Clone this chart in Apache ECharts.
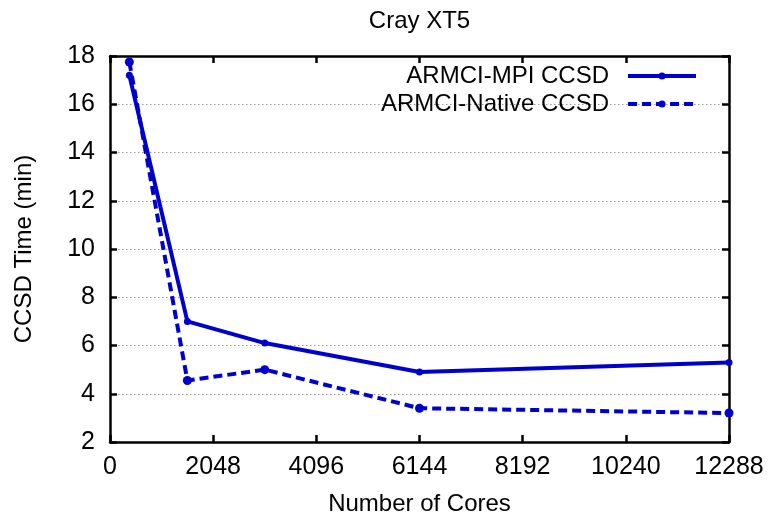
<!DOCTYPE html>
<html>
<head>
<meta charset="utf-8">
<script src="https://cdn.jsdelivr.net/npm/echarts@6/dist/echarts.min.js"></script>
<style>html,body{margin:0;padding:0;background:#fff}#c{width:769px;height:516px}</style>
</head>
<body>
<div id="c"></div>
<script>
const title = 'Cray XT5';
const cores = [384, 1536, 3072, 6144, 12288];
const mpiTimes = [17.2, 7.0, 6.1, 4.9, 5.3];
const nativeTimes = [17.75, 4.55, 5.0, 3.4, 3.2];
const seriesNames = ['ARMCI-MPI CCSD', 'ARMCI-Native CCSD'];
const xTicks = [0, 2048, 4096, 6144, 8192, 10240, 12288];
const yTicks = [2, 4, 6, 8, 10, 12, 14, 16, 18];

const font = 'Liberation Sans, Arial, Helvetica, sans-serif';
const blue = '#0000cc';
const dash = [9, 5];
const pair = (xs, ys) => xs.map((x, i) => [x, ys[i]]);

const baseAxis = {
  axisLine: { show: true, onZero: false, lineStyle: { color: '#000', width: 2.5 } },
  axisTick: { show: true, inside: true, length: 7, lineStyle: { color: '#000', width: 2.5 } },
  splitLine: { show: false }
};

const chart = echarts.init(document.getElementById('c'), null, { renderer: 'canvas' });
chart.setOption({
  animation: false,
  backgroundColor: '#fff',
  title: {
    text: title, left: 419.5, top: 9, textAlign: 'center', padding: 0,
    textStyle: { fontFamily: font, fontSize: 24, fontWeight: 'normal', color: '#000' }
  },
  grid: { left: 110, right: 40, top: 56, bottom: 74, containLabel: false, outerBoundsMode: 'none' },
  legend: {
    orient: 'vertical', right: 71, top: 64, align: 'right', padding: 0,
    itemWidth: 68, itemHeight: 9, itemGap: 4,
    textStyle: { fontFamily: font, fontSize: 24, color: '#000', padding: [0, 14, 0, 0], lineHeight: 24 },
    data: [
      { name: seriesNames[0], lineStyle: { width: 4 } },
      { name: seriesNames[1], lineStyle: { width: 4, type: dash } }
    ]
  },
  xAxis: [
    Object.assign({}, baseAxis, {
      type: 'value', min: xTicks[0], max: xTicks[xTicks.length - 1], interval: 2048,
      name: 'Number of Cores', nameLocation: 'middle', nameGap: 50,
      nameTextStyle: { fontFamily: font, fontSize: 24, color: '#000' },
      axisLabel: { fontFamily: font, fontSize: 25, color: '#000', margin: 13, formatter: v => String(v) }
    }),
    Object.assign({}, baseAxis, {
      type: 'value', position: 'top', min: xTicks[0], max: xTicks[xTicks.length - 1], interval: 2048,
      axisLabel: { show: false }
    })
  ],
  yAxis: [
    Object.assign({}, baseAxis, {
      type: 'value', min: yTicks[0], max: yTicks[yTicks.length - 1], interval: 2,
      name: 'CCSD Time (min)', nameLocation: 'middle', nameGap: 74, nameRotate: 90,
      nameTextStyle: { fontFamily: font, fontSize: 24, color: '#000' },
      axisLabel: { fontFamily: font, fontSize: 25, color: '#000', margin: 15, formatter: v => String(v) },
      splitLine: { show: true, lineStyle: { color: '#999', width: 1, type: [1.5, 2.5] } }
    }),
    Object.assign({}, baseAxis, {
      type: 'value', position: 'right', min: yTicks[0], max: yTicks[yTicks.length - 1], interval: 2,
      axisLabel: { show: false }
    })
  ],
  series: [
    {
      name: seriesNames[0], type: 'line', xAxisIndex: 0, yAxisIndex: 0,
      data: pair(cores, mpiTimes),
      symbol: 'circle', symbolSize: 7, showSymbol: true,
      lineStyle: { color: blue, width: 4 },
      itemStyle: { color: blue }
    },
    {
      name: seriesNames[1], type: 'line', xAxisIndex: 0, yAxisIndex: 0,
      data: pair(cores, nativeTimes),
      symbol: 'circle', symbolSize: 9, showSymbol: true,
      lineStyle: { color: blue, width: 4, type: dash },
      itemStyle: { color: blue }
    }
  ]
});
</script>
</body>
</html>
